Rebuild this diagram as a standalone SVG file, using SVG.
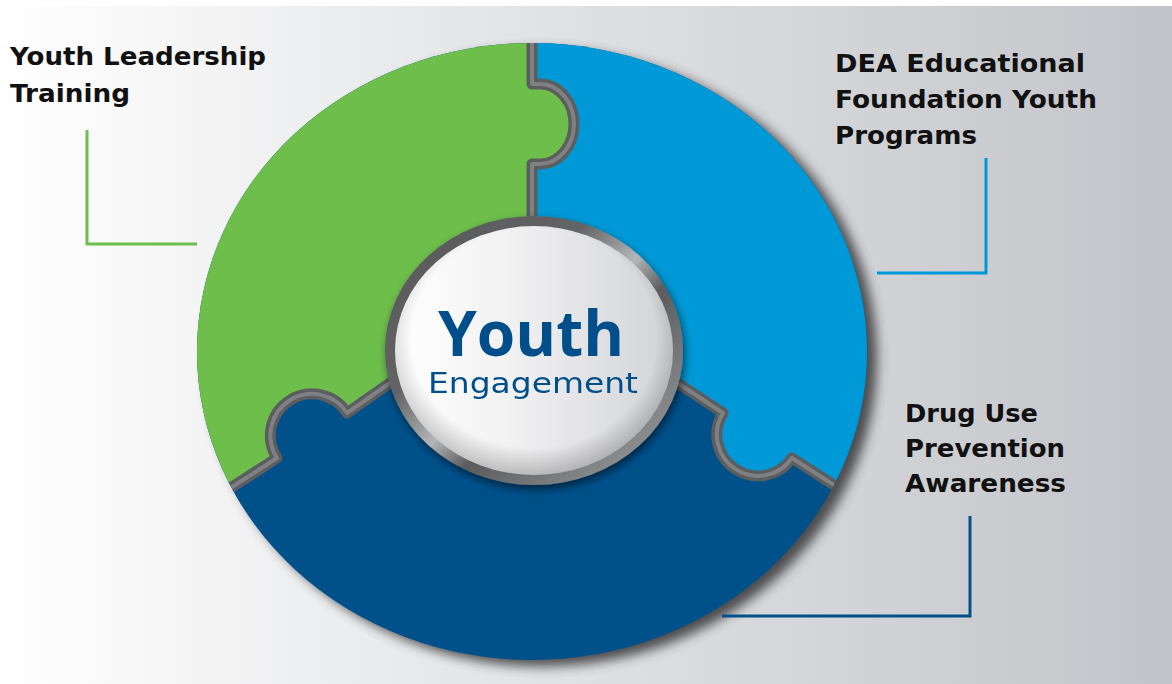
<svg xmlns="http://www.w3.org/2000/svg" width="1172" height="684" viewBox="0 0 1172 684">
  <defs>
    <linearGradient id="bg" x1="0" y1="0" x2="1172" y2="0" gradientUnits="userSpaceOnUse">
      <stop offset="0" stop-color="#ffffff"/>
      <stop offset="0.45" stop-color="#e2e3e5"/>
      <stop offset="1" stop-color="#c2c4c9"/>
    </linearGradient>
    <linearGradient id="face" x1="0" y1="0" x2="1" y2="0">
      <stop offset="0" stop-color="#ffffff"/>
      <stop offset="0.4" stop-color="#f2f2f3"/>
      <stop offset="1" stop-color="#d2d3d6"/>
    </linearGradient>
    <radialGradient id="faceShade" cx="0.5" cy="0.45" r="0.55">
      <stop offset="0.8" stop-color="#000" stop-opacity="0"/>
      <stop offset="1" stop-color="#000" stop-opacity="0.22"/>
    </radialGradient>
    <linearGradient id="ring" x1="0" y1="0" x2="1" y2="1">
      <stop offset="0" stop-color="#545557"/>
      <stop offset="0.35" stop-color="#636466"/>
      <stop offset="0.5" stop-color="#b4b5b7"/>
      <stop offset="0.6" stop-color="#5a5b5d"/>
      <stop offset="0.85" stop-color="#8a8b8d"/>
      <stop offset="1" stop-color="#565759"/>
    </linearGradient>
    <clipPath id="disc">
      <ellipse cx="532" cy="351.5" rx="335" ry="308.5"/>
    </clipPath>
    <filter id="outerShadow" x="-10%" y="-10%" width="125%" height="125%">
      <feGaussianBlur stdDeviation="6"/>
    </filter>
    <filter id="badgeShadow" x="-20%" y="-20%" width="140%" height="140%">
      <feGaussianBlur in="SourceAlpha" stdDeviation="4"/>
      <feOffset dx="2" dy="4" result="b"/>
      <feComponentTransfer><feFuncA type="linear" slope="0.55"/></feComponentTransfer>
      <feMerge><feMergeNode/><feMergeNode in="SourceGraphic"/></feMerge>
    </filter>
    <path id="dividers" d="M532,20 V84 H540 A34 40 0 0 1 540 164 H532 V260 M400,376 L347,413 A41.2 41.2 0 0 0 277,458 L170,527 M670,378 L723,413 A41.2 41.2 0 0 0 792,458 L905,531"/>
  </defs>
  <style>
    .label { font-family: "DejaVu Sans", "Open Sans", sans-serif; font-weight: 700; font-size: 25px; fill: #111111; }
    .lead { fill: none; stroke-width: 3; }
    .gapDark { fill: none; stroke: #5c5d5f; stroke-width: 11; stroke-linejoin: round; }
    .gapLight { fill: none; stroke: #8f9093; stroke-width: 4; stroke-linejoin: round; opacity: 0.7; }
  </style>

  <rect x="0" y="0" width="1172" height="684" fill="url(#bg)"/>
  <rect x="0" y="0" width="1172" height="6" fill="#ffffff"/>

  <!-- outer shadow -->
  <ellipse cx="542" cy="358" rx="335" ry="308.5" fill="#3d3e40" opacity="0.9" filter="url(#outerShadow)"/>

  <g id="piece-dark-blue">
    <ellipse cx="532" cy="351.5" rx="335" ry="308.5" fill="#00508a"/>
  </g>
  <g id="piece-green" clip-path="url(#disc)">
    <path d="M532,20 V84 H540 A34 40 0 0 1 540 164 H532 V300 L400,376 L347,413 A41.2 41.2 0 0 0 277,458 L170,527 L100,527 L100,20 Z" fill="#6dbe4b"/>
  </g>
  <g id="piece-blue" clip-path="url(#disc)">
    <path d="M532,20 V84 H540 A34 40 0 0 1 540 164 H532 V300 L670,378 L723,413 A41.2 41.2 0 0 0 792,458 L905,531 L960,531 L960,20 Z" fill="#0099d7"/>
  </g>

  <g id="connectors">
    <g clip-path="url(#disc)">
      <use href="#dividers" class="gapDark"/>
      <use href="#dividers" class="gapLight"/>
    </g>
    <path class="lead" stroke="#6dbe4b" d="M87,130 V244 H197"/>
    <path class="lead" stroke="#0099d7" d="M877,273 H986 V158"/>
    <path class="lead" stroke="#00508a" d="M722,616 H970 V516"/>
  </g>

  <g id="center" filter="url(#badgeShadow)">
    <ellipse cx="534" cy="350.5" rx="149" ry="134.5" fill="url(#ring)"/>
    <ellipse cx="534" cy="350.5" rx="139" ry="124.5" fill="url(#face)"/>
    <ellipse cx="534" cy="350.5" rx="139" ry="124.5" fill="url(#faceShade)"/>
    <text x="531" y="356" text-anchor="middle" font-family="'Open Sans', 'Liberation Sans', sans-serif" font-weight="700" font-size="63" fill="#00508a" textLength="186" lengthAdjust="spacingAndGlyphs">Youth</text>
    <text x="533" y="393" text-anchor="middle" font-family="'DejaVu Sans', 'Open Sans', sans-serif" font-weight="400" font-size="28" fill="#00508a" textLength="210" lengthAdjust="spacingAndGlyphs">Engagement</text>
  </g>

  <g id="label-green">
    <text class="label" x="10" y="65" textLength="256" lengthAdjust="spacingAndGlyphs">Youth Leadership</text>
    <text class="label" x="10" y="102" textLength="120" lengthAdjust="spacingAndGlyphs">Training</text>
  </g>
  <g id="label-blue">
    <text class="label" x="835" y="72" textLength="250" lengthAdjust="spacingAndGlyphs">DEA Educational</text>
    <text class="label" x="835" y="108" textLength="262" lengthAdjust="spacingAndGlyphs">Foundation Youth</text>
    <text class="label" x="835" y="144" textLength="142" lengthAdjust="spacingAndGlyphs">Programs</text>
  </g>
  <g id="label-dark-blue">
    <text class="label" x="905" y="422" textLength="133" lengthAdjust="spacingAndGlyphs">Drug Use</text>
    <text class="label" x="905" y="457" textLength="160" lengthAdjust="spacingAndGlyphs">Prevention</text>
    <text class="label" x="905" y="492" textLength="161" lengthAdjust="spacingAndGlyphs">Awareness</text>
  </g>
</svg>
